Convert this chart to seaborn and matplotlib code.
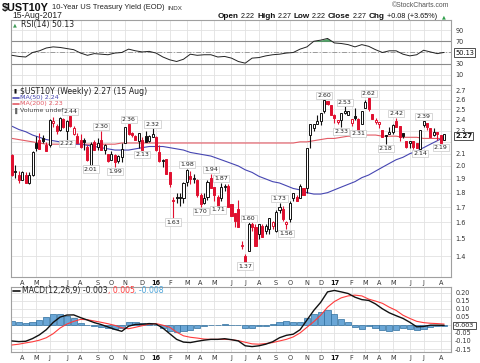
import numpy as np
import pandas as pd
import matplotlib
matplotlib.use("Agg")
import matplotlib.pyplot as plt
import matplotlib.dates as mdates
from matplotlib.lines import Line2D
import seaborn as sns

sns.set_style("white")
plt.rcParams["font.family"] = ["DejaVu Sans"]

# ---------------- data ----------------
weeks = pd.date_range("2015-03-20", periods=127, freq="7D")

opens = [2.09, 1.96, 1.93, 1.89, 1.93, 1.87, 1.93, 2.19, 2.22, 2.23,
         2.17, 2.17, 2.37, 2.34, 2.31, 2.41, 2.30, 2.44, 2.27, 2.25,
         2.22, 2.22, 2.16, 2.01, 2.20, 2.16, 2.22, 2.13, 2.10, 2.05,
         2.09, 2.04, 2.07, 2.19, 2.36, 2.28, 2.25, 2.21, 2.22, 2.25,
         2.21, 2.24, 2.24, 2.11, 2.04, 2.06, 1.95, 1.75, 1.77, 1.77,
         1.76, 1.88, 1.92, 1.90, 1.89, 1.78, 1.73, 1.77, 1.91, 1.84,
         1.77, 1.76, 1.84, 1.85, 1.72, 1.66, 1.69, 1.46, 1.40, 1.43,
         1.59, 1.57, 1.53, 1.58, 1.55, 1.56, 1.58, 1.55, 1.68, 1.69,
         1.59, 1.62, 1.76, 1.77, 1.76, 1.83, 1.83, 2.26, 2.32, 2.36,
         2.39, 2.49, 2.59, 2.54, 2.45, 2.38, 2.40, 2.47, 2.45, 2.37,
         2.44, 2.41, 2.36, 2.51, 2.62, 2.46, 2.38, 2.36, 2.31, 2.26,
         2.27, 2.29, 2.39, 2.34, 2.28, 2.21, 2.19, 2.21, 2.19, 2.14,
         2.35, 2.37, 2.32, 2.26, 2.29, 2.26, 2.22]
highs = [2.10, 2.01, 1.96, 1.96, 1.95, 1.95, 2.12, 2.25, 2.28, 2.26,
         2.20, 2.41, 2.43, 2.36, 2.43, 2.42, 2.40, 2.44, 2.34, 2.28,
         2.27, 2.23, 2.17, 2.20, 2.22, 2.23, 2.30, 2.18, 2.10, 2.12,
         2.10, 2.09, 2.19, 2.33, 2.36, 2.29, 2.26, 2.28, 2.24, 2.30,
         2.26, 2.32, 2.25, 2.17, 2.06, 2.06, 1.95, 1.77, 1.80, 1.80,
         1.88, 1.98, 1.96, 1.94, 1.90, 1.80, 1.80, 1.89, 1.94, 1.84,
         1.78, 1.87, 1.86, 1.86, 1.72, 1.66, 1.75, 1.49, 1.41, 1.60,
         1.60, 1.59, 1.59, 1.59, 1.59, 1.63, 1.61, 1.68, 1.73, 1.71,
         1.61, 1.74, 1.80, 1.78, 1.86, 1.83, 2.15, 2.36, 2.36, 2.45,
         2.47, 2.60, 2.59, 2.54, 2.46, 2.40, 2.47, 2.53, 2.49, 2.41,
         2.51, 2.42, 2.49, 2.60, 2.62, 2.46, 2.42, 2.38, 2.31, 2.26,
         2.33, 2.36, 2.42, 2.34, 2.28, 2.21, 2.21, 2.21, 2.19, 2.31,
         2.39, 2.37, 2.32, 2.32, 2.29, 2.26, 2.27]
lows = [1.92, 1.91, 1.87, 1.89, 1.87, 1.86, 1.92, 2.12, 2.14, 2.19,
        2.12, 2.16, 2.33, 2.27, 2.30, 2.32, 2.22, 2.33, 2.26, 2.19,
        2.15, 2.13, 2.04, 2.01, 2.13, 2.13, 2.13, 2.10, 2.03, 2.05,
        1.99, 2.02, 2.03, 2.19, 2.26, 2.24, 2.22, 2.15, 2.13, 2.20,
        2.20, 2.24, 2.12, 2.03, 1.99, 1.94, 1.84, 1.63, 1.73, 1.71,
        1.73, 1.85, 1.86, 1.87, 1.77, 1.70, 1.72, 1.75, 1.83, 1.74,
        1.71, 1.74, 1.81, 1.70, 1.64, 1.57, 1.57, 1.44, 1.37, 1.43,
        1.55, 1.46, 1.50, 1.51, 1.53, 1.53, 1.56, 1.54, 1.66, 1.61,
        1.56, 1.60, 1.74, 1.74, 1.76, 1.78, 1.80, 2.15, 2.30, 2.36,
        2.35, 2.47, 2.54, 2.45, 2.37, 2.36, 2.33, 2.46, 2.45, 2.34,
        2.40, 2.31, 2.36, 2.51, 2.49, 2.41, 2.36, 2.32, 2.24, 2.18,
        2.27, 2.27, 2.33, 2.21, 2.23, 2.15, 2.15, 2.14, 2.15, 2.14,
        2.33, 2.31, 2.24, 2.25, 2.22, 2.19, 2.22]
closes = [1.93, 1.95, 1.89, 1.95, 1.87, 1.93, 2.11, 2.15, 2.14, 2.21,
          2.12, 2.40, 2.39, 2.30, 2.42, 2.33, 2.39, 2.34, 2.32, 2.19,
          2.16, 2.20, 2.05, 2.18, 2.13, 2.19, 2.13, 2.17, 2.04, 2.10,
          2.03, 2.08, 2.14, 2.33, 2.27, 2.26, 2.22, 2.28, 2.13, 2.20,
          2.25, 2.27, 2.13, 2.04, 2.05, 1.94, 1.86, 1.74, 1.76, 1.76,
          1.87, 1.97, 1.90, 1.90, 1.78, 1.72, 1.76, 1.88, 1.83, 1.78,
          1.71, 1.84, 1.85, 1.70, 1.64, 1.61, 1.57, 1.46, 1.37, 1.59,
          1.57, 1.46, 1.59, 1.51, 1.58, 1.63, 1.60, 1.67, 1.70, 1.62,
          1.60, 1.73, 1.80, 1.74, 1.85, 1.78, 2.15, 2.36, 2.36, 2.39,
          2.47, 2.60, 2.55, 2.45, 2.42, 2.40, 2.47, 2.49, 2.49, 2.41,
          2.42, 2.31, 2.49, 2.58, 2.50, 2.41, 2.40, 2.38, 2.24, 2.25,
          2.29, 2.35, 2.33, 2.24, 2.25, 2.16, 2.21, 2.16, 2.15, 2.31,
          2.39, 2.33, 2.24, 2.29, 2.27, 2.19, 2.27]

# labelled swing highs / lows (week index, kind)
swing_labels = [(17, "H"), (16, "L"), (26, "H"), (23, "L"), (30, "L"),
                (34, "H"), (38, "L"), (41, "H"), (47, "L"), (51, "H"),
                (55, "L"), (58, "H"), (60, "L"), (61, "H"), (68, "L"),
                (69, "H"), (78, "H"), (80, "L"), (91, "H"), (96, "L"),
                (97, "H"), (101, "L"), (104, "H"), (109, "L"), (112, "H"),
                (119, "L"), (120, "H"), (125, "L")]

# indicator readings, every other week
ind_dates = weeks[::2]
ma50 = [2.34, 2.31, 2.29, 2.26, 2.24, 2.22, 2.21, 2.20, 2.19, 2.18,
        2.18, 2.17, 2.16, 2.15, 2.14, 2.13, 2.13, 2.13, 2.14, 2.15,
        2.16, 2.16, 2.16, 2.15, 2.14, 2.13, 2.11, 2.10, 2.09, 2.08,
        2.06, 2.04, 2.02, 2.00, 1.97, 1.95, 1.92, 1.90, 1.88, 1.87,
        1.85, 1.83, 1.82, 1.80, 1.79, 1.79, 1.80, 1.82, 1.84, 1.86,
        1.88, 1.91, 1.93, 1.96, 1.99, 2.02, 2.05, 2.07, 2.10, 2.12,
        2.15, 2.18, 2.21, 2.24]
ma200 = [2.23, 2.22, 2.21, 2.20, 2.19, 2.18, 2.18, 2.18, 2.18, 2.18,
         2.18, 2.18, 2.18, 2.18, 2.18, 2.18, 2.19, 2.19, 2.19, 2.19,
         2.19, 2.19, 2.19, 2.19, 2.19, 2.19, 2.19, 2.19, 2.19, 2.19,
         2.19, 2.19, 2.19, 2.19, 2.19, 2.19, 2.19, 2.19, 2.19, 2.19,
         2.19, 2.19, 2.20, 2.20, 2.21, 2.22, 2.23, 2.23, 2.24, 2.25,
         2.25, 2.26, 2.26, 2.26, 2.25, 2.25, 2.25, 2.24, 2.24, 2.24,
         2.23, 2.23, 2.23, 2.23]
rsi = [45, 43, 42, 50, 53, 58, 60, 59, 57, 55,
       49, 45, 48, 47, 46, 49, 50, 56, 53, 51,
       52, 49, 42, 37, 34, 38, 47, 45, 46, 46,
       42, 43, 40, 34, 31, 40, 41, 44, 46, 47,
       49, 50, 56, 60, 70, 72, 75, 67, 66, 64,
       60, 64, 61, 55, 50, 53, 53, 47, 44, 46,
       54, 51, 48, 50.13]
macd = [-0.100, -0.104, -0.102, -0.085, -0.062, -0.030, 0.015, 0.048, 0.061, 0.062,
        0.045, 0.030, 0.014, 0.002, -0.013, -0.028, -0.040, -0.008, 0.003, 0.004,
        0.008, 0.005, -0.020, -0.055, -0.090, -0.107, -0.110, -0.102, -0.095, -0.090,
        -0.090, -0.086, -0.092, -0.100, -0.130, -0.135, -0.130, -0.120, -0.105, -0.080,
        -0.065, -0.058, -0.030, 0.030, 0.090, 0.140, 0.205, 0.214, 0.205, 0.195,
        0.172, 0.157, 0.152, 0.130, 0.100, 0.075, 0.057, 0.040, 0.016, -0.012,
        -0.010, -0.002, -0.002, -0.003]
signal = [-0.125, -0.120, -0.112, -0.105, -0.095, -0.080, -0.055, -0.020, 0.005, 0.022,
          0.034, 0.032, 0.024, 0.016, 0.007, -0.003, -0.018, -0.024, -0.015, -0.005,
          0.005, 0.008, -0.002, -0.015, -0.045, -0.068, -0.077, -0.082, -0.088, -0.090,
          -0.090, -0.090, -0.092, -0.098, -0.108, -0.118, -0.120, -0.116, -0.110, -0.100,
          -0.090, -0.075, -0.050, -0.015, 0.020, 0.060, 0.110, 0.145, 0.168, 0.180,
          0.185, 0.180, 0.160, 0.148, 0.134, 0.110, 0.090, 0.060, 0.040, 0.022,
          0.014, 0.010, 0.008, 0.005]

price_ticks = [1.4, 1.5, 1.6, 1.7, 1.8, 1.9, 2.0, 2.1, 2.2, 2.3, 2.4, 2.5, 2.6, 2.7]
price_hidden = [2.2]          # tick labels covered by the current-value box
rsi_ticks = [10, 30, 70, 90]
macd_ticks = [-0.15, -0.10, -0.05, 0.05, 0.10, 0.15, 0.20]

# ---------------- figure ----------------
W, H = 480, 363
fig = plt.figure(figsize=(W / 100, H / 100), dpi=100)
fig.patch.set_facecolor("white")
renderer = fig.canvas.get_renderer()

def box(top, bottom):
    return [11 / W, 1 - bottom / H, 440 / W, (bottom - top) / H]

ax_rsi = fig.add_axes(box(20, 85))
ax = fig.add_axes(box(85, 277))
ax_m = fig.add_axes(box(287, 352))

xlim = (mdates.date2num(pd.Timestamp("2015-03-18")), mdates.date2num(pd.Timestamp("2017-09-01")))
xw = mdates.date2num(weeks)

# month ticks: first week whose Monday falls in a new month
mondays = weeks - pd.Timedelta(days=4)
tick_idx = [i for i in range(1, len(weeks)) if mondays[i].month != mondays[i - 1].month]
tick_pos = [xw[i] for i in tick_idx]
tick_lab = [(mondays[i].strftime("%y") if mondays[i].month == 1 else mondays[i].strftime("%b")[0])
            for i in tick_idx]

grid_c = "#e2e2e2"
for a in (ax_rsi, ax, ax_m):
    a.set_xlim(*xlim)
    a.set_facecolor("white")
    for s in a.spines.values():
        s.set_color("#a0a0a0")
        s.set_linewidth(0.8)
    for tp in tick_pos:
        a.axvline(tp, color=grid_c, lw=0.6, zorder=0)
    a.yaxis.tick_right()
    a.tick_params(axis="y", length=0, pad=3, labelsize=4.7, labelcolor="#333333")
    a.tick_params(axis="x", length=0, pad=2, labelsize=4.7, labelcolor="#333333")
    a.set_xticks(tick_pos)

# ---- RSI panel ----
ax_rsi.set_ylim(-7.8, 107.8)
ax_rsi.set_yticks(rsi_ticks)
ax_rsi.set_xticklabels([])
for v in rsi_ticks + [50]:
    ax_rsi.axhline(v, color=grid_c, lw=0.6, zorder=0)
ax_rsi.axhline(70, color="#8a8a8a", lw=0.8, zorder=1)
ax_rsi.axhline(30, color="#8a8a8a", lw=0.8, zorder=1)
ax_rsi.axhline(50, color="#9a9a9a", lw=0.7, ls=(0, (5, 2, 1, 2)), zorder=1)
rsi_df = pd.DataFrame({"date": ind_dates, "rsi": rsi})
sns.lineplot(data=rsi_df, x="date", y="rsi", ax=ax_rsi, color="#222222", lw=0.7, zorder=3)
rx = mdates.date2num(ind_dates)
ra = np.array(rsi, dtype=float)
ax_rsi.fill_between(rx, 70, ra, where=ra > 70, interpolate=True, color="#3f9b57", alpha=0.9, lw=0, zorder=2)
ax_rsi.set_xlim(*xlim)
ax_rsi.set_xlabel("")
ax_rsi.set_ylabel("")

# ---- price panel ----
ax.set_yscale("log")
ax.set_ylim(1.29, 2.754)
ax.yaxis.set_major_locator(matplotlib.ticker.FixedLocator(price_ticks))
ax.yaxis.set_minor_locator(matplotlib.ticker.NullLocator())
ax.yaxis.set_major_formatter(matplotlib.ticker.FuncFormatter(
    lambda v, p: "" if any(abs(v - q) < 1e-6 for q in price_hidden) else f"{v:.1f}"))
ax.yaxis.set_minor_formatter(matplotlib.ticker.NullFormatter())
for v in price_ticks:
    ax.axhline(v, color=grid_c, lw=0.6, zorder=0)

ma_df = pd.DataFrame({"date": ind_dates, "ma50": ma50, "ma200": ma200})
sns.lineplot(data=ma_df, x="date", y="ma200", ax=ax, color="#e35a64", lw=0.8, zorder=2)
sns.lineplot(data=ma_df, x="date", y="ma50", ax=ax, color="#4646b2", lw=0.8, zorder=2)

o = np.array(opens); h = np.array(highs); l = np.array(lows); c = np.array(closes)
prev = np.r_[o[0], c[:-1]]
RED = "#e0102f"
edge = [("#111111" if c[i] >= prev[i] else RED) for i in range(len(c))]
face = [("white" if c[i] >= o[i] else edge[i]) for i in range(len(c))]
ax.vlines(xw, l, h, colors=edge, lw=0.8, zorder=3)
body_lo = np.minimum(o, c)
body_h = np.maximum(np.abs(c - o), 0.004)
ax.bar(xw, body_h, bottom=body_lo, width=4.2, color=face, edgecolor=edge, linewidth=0.7, zorder=4)

for i, kind in swing_labels:
    if kind == "H":
        v = highs[i]; off = 1.3; va = "bottom"
    else:
        v = lows[i]; off = -1.3; va = "top"
    ax.annotate(f"{v:.2f}", xy=(xw[i], v), xytext=(0, off), textcoords="offset points",
                ha="center", va=va, fontsize=4.5, color="#222222", zorder=6,
                bbox=dict(boxstyle="square,pad=0.18", fc="white", ec="#c8c8c8", lw=0.5))

ax.set_xticklabels(tick_lab)
ax.set_xlim(*xlim)
ax.set_xlabel("")
ax.set_ylabel("")

# ---- MACD panel ----
ax_m.set_ylim(-0.1686, 0.2354)
ax_m.set_yticks(macd_ticks)
ax_m.yaxis.set_major_formatter(matplotlib.ticker.FuncFormatter(lambda v, p: f"{v:.2f}"))
for v in macd_ticks + [0.0]:
    ax_m.axhline(v, color=grid_c, lw=0.6, zorder=0)
mx = mdates.date2num(ind_dates)
hist = np.array(macd) - np.array(signal)
ax_m.bar(mx, hist, width=12.5, color="#6aa6d6", edgecolor="#2f6f9f", linewidth=0.5, zorder=2)
macd_df = pd.DataFrame({"date": ind_dates, "macd": macd, "signal": signal})
sns.lineplot(data=macd_df, x="date", y="signal", ax=ax_m, color="#ff3b3b", lw=0.8, zorder=3)
sns.lineplot(data=macd_df, x="date", y="macd", ax=ax_m, color="#111111", lw=1.0, zorder=4)
ax_m.set_xticklabels(tick_lab)
ax_m.set_xlim(*xlim)
ax_m.set_xlabel("")
ax_m.set_ylabel("")

for a in (ax, ax_m):
    for t in a.get_xticklabels():
        if t.get_text().isdigit():
            t.set_fontweight("bold")
            t.set_color("#111111")

# ---------------- texts ----------------
def ftext(x, y, s, **kw):
    kw.setdefault("va", "center")
    kw.setdefault("ha", "left")
    return fig.text(x / W, 1 - y / H, s, **kw)

def fit_text(x, y, s, width, **kw):
    t = ftext(x, y, s, **kw)
    w = t.get_window_extent(renderer).width
    t.set_fontsize(kw.get("fontsize", 5) * width / w)
    return t

def seq_text(x0, y, pieces, width=None, gap=0.9):
    def place(scale):
        objs, x = [], x0
        for s, kw in pieces:
            kw2 = dict(kw)
            kw2["fontsize"] = kw["fontsize"] * scale
            t = ftext(x, y, s, **kw2)
            objs.append(t)
            x += t.get_window_extent(renderer).width + gap * kw2["fontsize"] * 1.389 * 0.3
        return objs, x - x0
    objs, w = place(1.0)
    if width:
        for t in objs:
            t.remove()
        objs, w = place(width / w)
    return objs

def fline(x0, x1, y, color, lw=1.2):
    fig.add_artist(Line2D([x0 / W, x1 / W], [1 - y / H, 1 - y / H], color=color, lw=lw,
                          transform=fig.transFigure))

LS = "Liberation Sans"
fit_text(2, 7.5, "$UST10Y", 47, fontsize=7.5, fontweight="bold", family=LS, color="#111111")
fit_text(52, 7.5, "10-Year US Treasury Yield (EOD)", 112, fontsize=5.5, family=LS, color="#222222")
fit_text(167, 8, "INDX", 15, fontsize=4.4, family=LS, color="#333333")
fit_text(12, 16, "15-Aug-2017", 50, fontsize=5.4, family=LS, color="#222222")
fit_text(392, 5.5, "\u00a9StockCharts.com", 58, fontsize=5.2, family=LS, color="#555555")

B = dict(fontsize=5.6, fontweight="bold", family=LS, color="#111111")
N = dict(fontsize=5.0, family=LS, color="#111111")
seq_text(218, 16, [("Open", B), ("2.22", N), ("High", B), ("2.27", N), ("Low", B), ("2.22", N),
                   ("Close", B), ("2.27", N), ("Chg", B), ("+0.08 (+3.65%)", N)], width=222)
ftext(442, 16.5, "\u25b2", fontsize=3.6, color="#2e9e4a")

ftext(13, 24.5, "\u25b2", fontsize=3.6, color="#3f9b57")
fit_text(21, 24.5, "RSI(14) 50.13", 53, fontsize=5.2, color="#222222")

ftext(13, 91, "\u25ae", fontsize=4.0, color="#111111")
fit_text(20, 91, "$UST10Y (Weekly) 2.27 (15 Aug)", 127, fontsize=5.5, color="#222222")
fline(12.5, 19, 97.5, "#4646b2")
ftext(20, 97.5, "MA(50) 2.24", fontsize=4.6, color="#4646b2")
fline(12.5, 19, 104, "#e35a64")
ftext(20, 104, "MA(200) 2.23", fontsize=4.6, color="#e35a64")
ftext(13, 110.5, "\u2590", fontsize=4.0, color="#666666")
ftext(20, 110.5, "Volume undef", fontsize=4.5, color="#444444")

fline(13, 20, 290.7, "#111111")
M = dict(fontsize=5.3, color="#222222")
seq_text(22, 290.7, [("MACD(12,26,9) -0.003", M), (", 0.005", dict(M, color="#ff3b3b")),
                     (", -0.008", dict(M, color="#4aa3d8"))], width=143, gap=0.0)

# current value boxes on the right
bx = dict(boxstyle="square,pad=0.2", fc="white", ec="#333333", lw=0.6)
ftext(455, 52.7, "50.13", fontsize=4.8, color="#111111", bbox=bx)
ftext(455, 136.2, "2.27", fontsize=5.0, fontweight="bold", color="#111111",
      bbox=dict(boxstyle="square,pad=0.12", fc="white", ec="#333333", lw=0.6))
ftext(454, 325.7, "-0.003", fontsize=4.6, color="#111111", bbox=bx)

fig.savefig("out.png", dpi=100, facecolor="white")
